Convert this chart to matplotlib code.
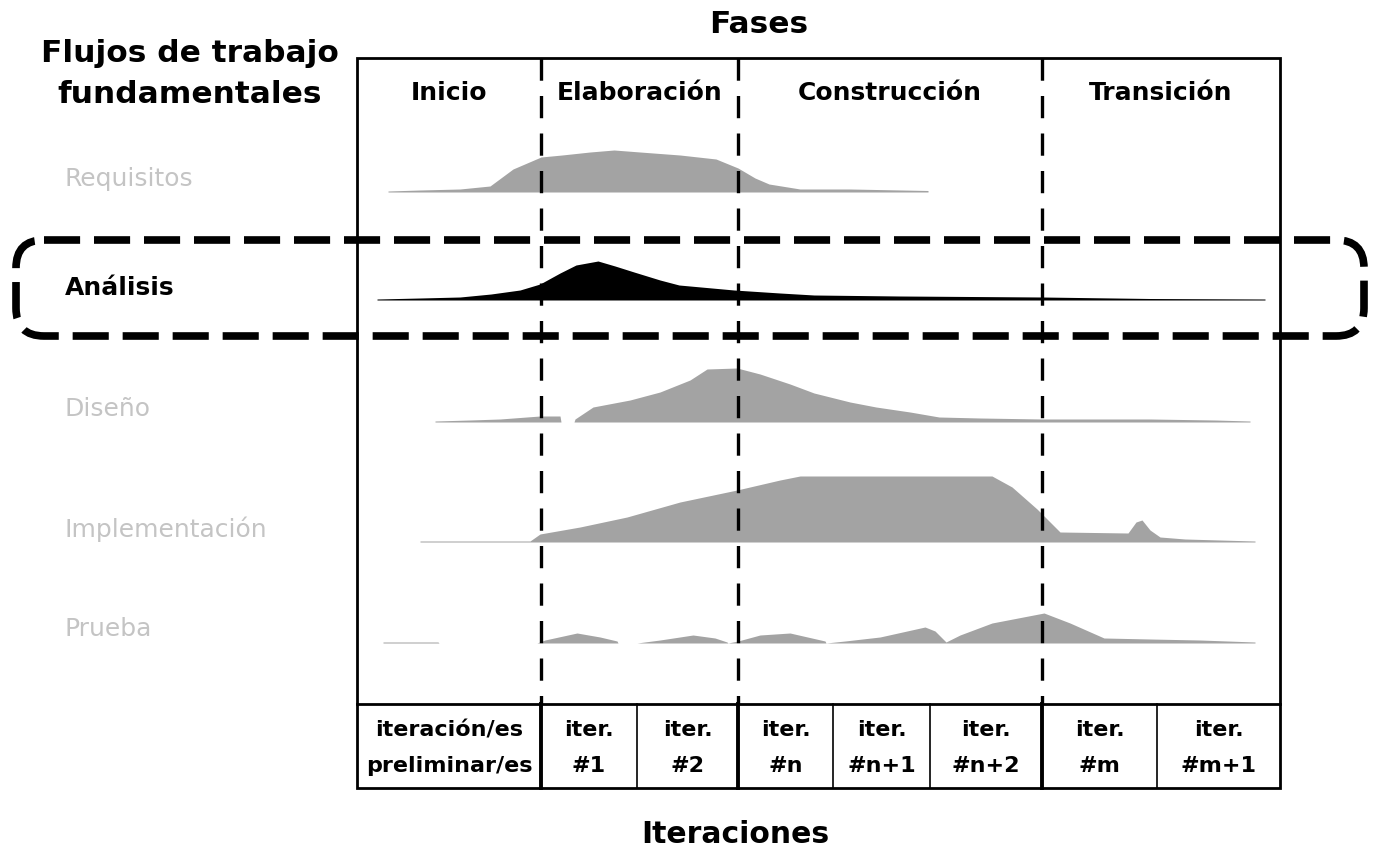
import matplotlib
matplotlib.use("Agg")
import matplotlib.pyplot as plt
from matplotlib.patches import FancyBboxPatch, Rectangle

plt.rcParams['lines.scale_dashes'] = False
FONT = ['DejaVu Sans']

# ---------------- data ----------------
phases = ["Inicio", "Elaboración", "Construcción", "Transición"]
workflows = ["Requisitos", "Análisis", "Diseño", "Implementación", "Prueba"]
iterations = ["iteración/es\npreliminar/es", "iter.\n#1", "iter.\n#2", "iter.\n#n",
              "iter.\n#n+1", "iter.\n#n+2", "iter.\n#m", "iter.\n#m+1"]

# effort profiles along the timeline (x) with heights (h)
req_x = [388, 420, 460, 490, 513, 541, 562, 590, 614, 640, 680, 716, 738, 755, 769, 800, 850, 928]
req_h = [1, 2, 3, 6, 23, 35, 37, 40, 42, 40, 37, 33, 24, 14, 8, 3, 3, 1.5]

ana_x = [377, 420, 460, 491, 520, 540, 560, 576, 598, 615, 634, 660, 679, 734, 780, 814, 900, 1042, 1150, 1265]
ana_h = [1, 2, 3, 6, 10, 16, 27, 35, 39, 34, 28, 20, 15, 10, 7, 5, 4, 3, 1.5, 1]

dis_x = [435, 470, 500, 540, 560, 561, 574, 575, 593, 630, 660, 690, 707, 737, 760, 790, 814, 850,
         876, 910, 939, 980, 1042, 1100, 1150, 1215, 1250]
dis_h = [1, 2, 3, 6, 6, 0, 0, 3, 15, 22, 30, 42, 53, 54, 48, 38, 29, 20,
         15, 10, 5, 4, 3, 3, 3, 2, 1]

imp_x = [420, 530, 540, 580, 627, 680, 737, 780, 800, 992, 1012, 1037, 1060, 1128, 1136, 1142,
         1150, 1160, 1185, 1220, 1255]
imp_h = [1, 1, 8, 15, 25, 40, 52, 62, 66, 66, 55, 33, 10, 9, 20, 22, 12, 5, 3, 2, 1]

pru_x = [383, 438, 439, 537, 545, 577, 600, 617, 618, 637, 660, 693, 715, 727, 728, 738, 760,
         790, 825, 826, 845, 880, 925, 935, 946, 960, 992, 1044, 1070, 1104, 1150, 1200, 1255]
pru_h = [1, 1, 0, 0, 3, 10, 6, 2, 0, 0, 3, 8, 5, 1, 0, 2, 8,
         10, 2, 0, 2, 6, 16, 12, 1, 8, 20, 30, 20, 5, 4, 3, 1]

profiles = [(req_x, req_h), (ana_x, ana_h), (dis_x, dis_h), (imp_x, imp_h), (pru_x, pru_h)]

# ---------------- layout ----------------
W, H = 1381, 858
fig = plt.figure(figsize=(W / 100, H / 100), dpi=100)
ax = fig.add_axes([0, 0, 1, 1])
ax.set_xlim(0, W)
ax.set_ylim(H, 0)
ax.axis('off')

box_l, box_r, box_t, box_b = 357, 1280, 58, 788
row_t = 704
phase_edges = [box_l, 541, 738, 1042, box_r]
iter_edges = [box_l, 541, 637, 738, 833, 930, 1042, 1157, box_r]
baselines = [192, 300, 422, 542, 643]
label_base = [186, 295, 416, 537, 636]
fills = ['#a3a3a3', '#000000', '#a3a3a3', '#a3a3a3', '#a3a3a3']
label_colors = ['#c4c4c4', '#000000', '#c4c4c4', '#c4c4c4', '#c4c4c4']
label_weights = ['normal', 'bold', 'normal', 'normal', 'normal']

# outer frame
ax.add_patch(Rectangle((box_l, box_t), box_r - box_l, box_b - box_t, fill=False,
                       lw=2.0, ec='black', zorder=5))
ax.plot([box_l, box_r], [row_t, row_t], color='black', lw=2.0, zorder=5)

# humps
for (xs, hs), base, col in zip(profiles, baselines, fills):
    tops = [base - h for h in hs]
    ax.fill_between(xs, [base] * len(xs), tops, color=col, lw=0, zorder=2)

# phase dashed lines
for x in phase_edges[1:-1]:
    ax.plot([x, x], [box_t, row_t], color='black', lw=2.4,
            dashes=(16, 11), zorder=4)

# iteration row dividers
for x in iter_edges[1:-1]:
    thick = x in phase_edges
    ax.plot([x, x], [row_t, box_b], color='black', lw=2.8 if thick else 1.2, zorder=5)

# iteration labels (two lines each)
for i, lab in enumerate(iterations):
    cx = (iter_edges[i] + iter_edges[i + 1]) / 2
    top, bottom = lab.split("\n")
    ax.text(cx, 736, top, ha='center', va='baseline', fontsize=16, fontweight='bold',
            family=FONT, zorder=6)
    ax.text(cx, 772, bottom, ha='center', va='baseline', fontsize=16, fontweight='bold',
            family=FONT, zorder=6)

# phase labels
for i, lab in enumerate(phases):
    cx = (phase_edges[i] + phase_edges[i + 1]) / 2
    ax.text(cx, 100, lab, ha='center', va='baseline', fontsize=18, fontweight='bold',
            family=FONT, zorder=6)

# workflow labels
for lab, y, c, wgt in zip(workflows, label_base, label_colors, label_weights):
    ax.text(65, y, lab, ha='left', va='baseline', fontsize=18, fontweight=wgt,
            color=c, family=FONT, zorder=6)

# titles
ax.text(759, 33, "Fases", ha='center', va='baseline', fontsize=22.5, fontweight='bold', family=FONT)
ax.text(190, 62, "Flujos de trabajo", ha='center', va='baseline', fontsize=22.5,
        fontweight='bold', family=FONT)
ax.text(190, 103, "fundamentales", ha='center', va='baseline', fontsize=22.5,
        fontweight='bold', family=FONT)
ax.text(735, 843, "Iteraciones", ha='center', va='baseline', fontsize=21.5, fontweight='bold',
        family=FONT)

# highlight around Análisis
hl = FancyBboxPatch((16, 240), 1348, 96, boxstyle="round,pad=0,rounding_size=28",
                    fill=False, ec='black', lw=5.5, linestyle=(0, (26, 10)), zorder=7)
ax.add_patch(hl)

fig.savefig("out.png", dpi=100)
